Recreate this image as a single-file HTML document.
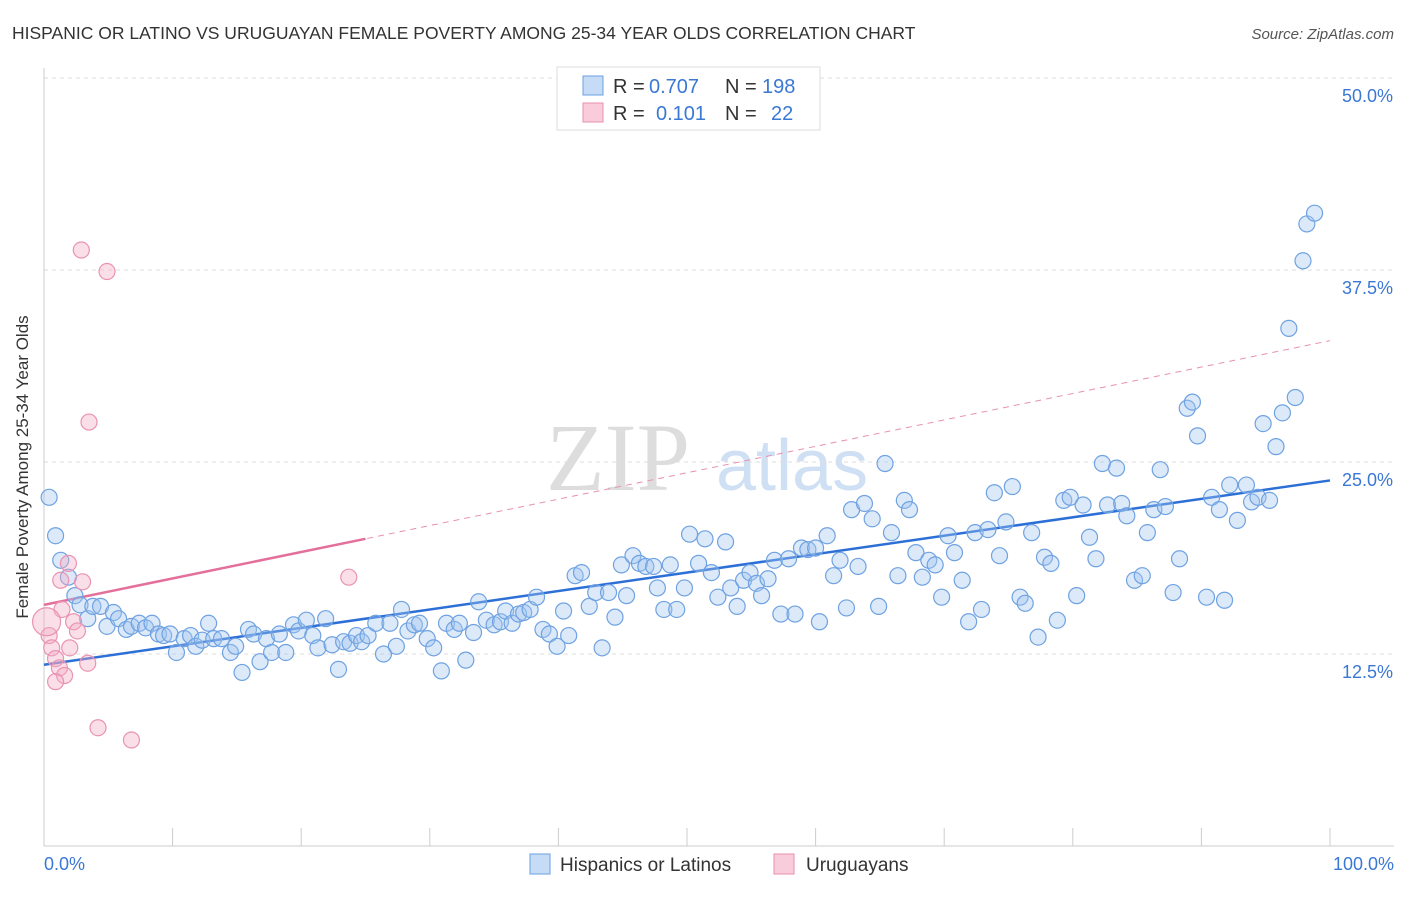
<!DOCTYPE html>
<html><head><meta charset="utf-8"><style>
body{margin:0;background:#fff;font-family:"Liberation Sans",sans-serif;}
svg text{font-family:"Liberation Sans",sans-serif;}
</style></head><body>
<svg id="chart" width="1406" height="892" xmlns="http://www.w3.org/2000/svg">
<text x="12" y="39" font-size="17.5" fill="#333">HISPANIC OR LATINO VS URUGUAYAN FEMALE POVERTY AMONG 25-34 YEAR OLDS CORRELATION CHART</text>
<text x="1394" y="39" font-size="15" fill="#555" font-style="italic" text-anchor="end">Source: ZipAtlas.com</text>
<g>
<text x="690" y="490" font-size="96" fill="#ddd" text-anchor="end" font-family="Liberation Serif" style="font-family:'Liberation Serif',serif">ZIP</text>
<text x="716" y="490" font-size="72" fill="#cfe0f4">atlas</text>
</g>
<g id="grid"></g>
<g id="axes"></g>
<g id="trend"></g>
<g id="pts"></g>
<text x="18" y="457" font-size="17" fill="#333" text-anchor="middle" transform="rotate(-90 28 457)">Female Poverty Among 25-34 Year Olds</text>
<g>
<rect x="557" y="67" width="263" height="63" fill="#fff" stroke="#ddd"/>
<rect x="583" y="76" width="20" height="19" fill="rgba(160,196,240,0.6)" stroke="#6a9fe0"/>
<rect x="583" y="103" width="20" height="19" fill="rgba(245,170,195,0.6)" stroke="#e890b0"/>
<text x="613" y="93" font-size="20" fill="#333">R =</text>
<text x="649" y="93" font-size="20" fill="#3a78d4">0.707</text>
<text x="725" y="93" font-size="20" fill="#333">N =</text>
<text x="762" y="93" font-size="20" fill="#3a78d4">198</text>
<text x="613" y="120" font-size="20" fill="#333">R =</text>
<text x="656" y="120" font-size="20" fill="#3a78d4">0.101</text>
<text x="725" y="120" font-size="20" fill="#333">N =</text>
<text x="771" y="120" font-size="20" fill="#3a78d4">22</text>
</g>
<g>
<rect x="530" y="854" width="20" height="20" fill="rgba(160,196,240,0.6)" stroke="#6a9fe0"/>
<text x="560" y="871" font-size="19" fill="#333">Hispanics or Latinos</text>
<rect x="774" y="854" width="20" height="20" fill="rgba(245,170,195,0.6)" stroke="#e890b0"/>
<text x="806" y="871" font-size="19" fill="#333">Uruguayans</text>
</g>
</svg>
<script>
const blueX=[0.4,0.9,1.3,1.9,2.4,2.8,3.4,3.8,4.4,4.9,5.4,5.8,6.4,6.8,7.4,7.9,8.4,8.9,9.3,9.8,10.3,10.9,11.4,11.8,12.3,12.8,13.2,13.8,14.5,14.9,15.4,15.9,16.3,16.8,17.3,17.7,18.3,18.8,19.4,19.8,20.4,20.9,21.3,21.9,22.4,22.9,23.3,23.8,24.3,24.7,25.2,25.8,26.4,26.9,27.4,27.8,28.3,28.8,29.2,29.8,30.3,30.9,31.3,31.9,32.3,32.8,33.4,33.8,34.4,35.0,35.5,35.9,36.4,36.9,37.3,37.8,38.3,38.8,39.3,39.9,40.4,40.8,41.3,41.8,42.4,42.9,43.4,43.9,44.4,44.9,45.3,45.8,46.3,46.8,47.4,47.7,48.2,48.7,49.2,49.8,50.2,50.9,51.4,51.9,52.4,53.0,53.4,53.9,54.4,54.9,55.4,55.8,56.3,56.8,57.3,57.9,58.4,58.9,59.4,60.0,60.3,60.9,61.4,61.9,62.4,62.8,63.3,63.8,64.4,64.9,65.4,65.9,66.4,66.9,67.3,67.8,68.3,68.8,69.3,69.8,70.3,70.8,71.4,71.9,72.4,72.9,73.4,73.9,74.3,74.8,75.3,75.9,76.3,76.8,77.3,77.8,78.3,78.8,79.3,79.8,80.3,80.8,81.3,81.8,82.3,82.7,83.4,83.8,84.2,84.8,85.4,85.8,86.3,86.8,87.2,87.8,88.3,88.9,89.3,89.7,90.4,90.8,91.4,91.8,92.2,92.8,93.5,93.9,94.4,94.8,95.3,95.8,96.3,96.8,97.3,97.9,98.2,98.8];
const blueY=[22.7,20.2,18.6,17.5,16.3,15.7,14.8,15.6,15.6,14.3,15.2,14.8,14.1,14.3,14.5,14.2,14.5,13.8,13.7,13.8,12.6,13.5,13.7,13.0,13.4,14.5,13.5,13.5,12.6,13.0,11.3,14.1,13.8,12.0,13.5,12.6,13.8,12.6,14.4,14.0,14.7,13.7,12.9,14.8,13.1,11.5,13.3,13.2,13.7,13.3,13.7,14.5,12.5,14.5,13.0,15.4,14.0,14.4,14.5,13.5,12.9,11.4,14.5,14.1,14.5,12.1,13.9,15.9,14.7,14.4,14.6,15.3,14.5,15.1,15.2,15.4,16.2,14.1,13.8,13.0,15.3,13.7,17.6,17.8,15.6,16.5,12.9,16.5,14.9,18.3,16.3,18.9,18.4,18.2,18.2,16.8,15.4,18.3,15.4,16.8,20.3,18.4,20.0,17.8,16.2,19.8,16.8,15.6,17.3,17.8,17.1,16.3,17.4,18.6,15.1,18.7,15.1,19.4,19.3,19.4,14.6,20.2,17.6,18.6,15.5,21.9,18.2,22.3,21.3,15.6,24.9,20.4,17.6,22.5,21.9,19.1,17.5,18.6,18.3,16.2,20.2,19.1,17.3,14.6,20.4,15.4,20.6,23.0,18.9,21.1,23.4,16.2,15.8,20.4,13.6,18.8,18.4,14.7,22.5,22.7,16.3,22.2,20.1,18.7,24.9,22.2,24.6,22.3,21.5,17.3,17.6,20.4,21.9,24.5,22.1,16.5,18.7,28.5,28.9,26.7,16.2,22.7,21.9,16.0,23.5,21.2,23.5,22.4,22.7,27.5,22.5,26.0,28.2,33.7,29.2,38.1,40.5,41.2];
const pinkX=[2.9,4.9,3.5,1.9,1.3,3.0,1.4,2.3,2.6,0.4,0.6,2.0,0.9,3.4,1.2,1.6,0.9,4.2,6.8,23.7,0.2];
const pinkY=[38.8,37.4,27.6,18.4,17.3,17.2,15.4,14.6,14.0,13.7,12.9,12.9,12.2,11.9,11.6,11.1,10.7,7.7,6.9,17.5,14.6];
const yTicks=[12.5,25.0,37.5,50.0];
const yTickLabels=["12.5%","25.0%","37.5%","50.0%"];
const xTickLabels=["0.0%","100.0%"];
const blueTrend=[11.8,23.8];
const pinkTrend=[15.7,32.9];
const NS="http://www.w3.org/2000/svg";
const X=v=>44+v*12.86, Y=v=>846-v*15.36;
function mk(t,a,p){const e=document.createElementNS(NS,t);for(const k in a)e.setAttribute(k,a[k]);p.appendChild(e);return e;}
const grid=document.getElementById('grid'),axes=document.getElementById('axes'),trend=document.getElementById('trend'),pts=document.getElementById('pts');
yTicks.forEach((t,i)=>{
 const l=mk('line',{x1:44,x2:1394,y1:Y(t),y2:Y(t),stroke:'#ddd','stroke-dasharray':'4,4'},grid);
 
 
 const tx=mk('text',{x:1393,y:Y(t)+24,'font-size':18,fill:'#3a78d4','text-anchor':'end'},axes);
 tx.textContent=yTickLabels[i];
 
 
});
const xa=mk('line',{x1:44,x2:1394,y1:846,y2:846,stroke:'#ccc'},axes);


const ya=mk('line',{x1:44,x2:44,y1:68,y2:846,stroke:'#ccc'},axes);


for(let i=1;i<=10;i++){const t=mk('line',{x1:X(i*10),x2:X(i*10),y1:828,y2:846,stroke:'#ccc'},axes);
 
 }
[[0,'start',44],[1,'end',1394]].forEach(([i,a,x])=>{const t=mk('text',{x:x,y:870,'font-size':18,fill:'#3a78d4','text-anchor':a},axes);t.textContent=xTickLabels[i];
 
 });
let p;
p=mk('line',{x1:X(0),y1:Y(pinkTrend[0]),x2:X(100),y2:Y(pinkTrend[1]),stroke:'#e890b0','stroke-width':1,'stroke-dasharray':'6,5'},trend);


const py25=pinkTrend[0]+(pinkTrend[1]-pinkTrend[0])*0.25;
p=mk('line',{x1:X(0),y1:Y(pinkTrend[0]),x2:X(25),y2:Y(py25),stroke:'#e46f9b','stroke-width':2.5},trend);


blueX.forEach((x,i)=>{const c=mk('circle',{cx:X(x),cy:Y(blueY[i]),r:8,fill:'rgba(160,196,240,0.38)',stroke:'#6fa2e2','stroke-width':1.2},pts);
 
 });
pinkX.forEach((x,i)=>{const c=mk('circle',{cx:X(x),cy:Y(pinkY[i]),r:i==pinkX.length-1?14:8,fill:'rgba(245,170,195,0.38)',stroke:'#e993b3','stroke-width':1.2},pts);
 
 });
p=mk('line',{x1:X(0),y1:Y(blueTrend[0]),x2:X(100),y2:Y(blueTrend[1]),stroke:'#2c6fd6','stroke-width':2.5},trend);


</script>
</body></html>
